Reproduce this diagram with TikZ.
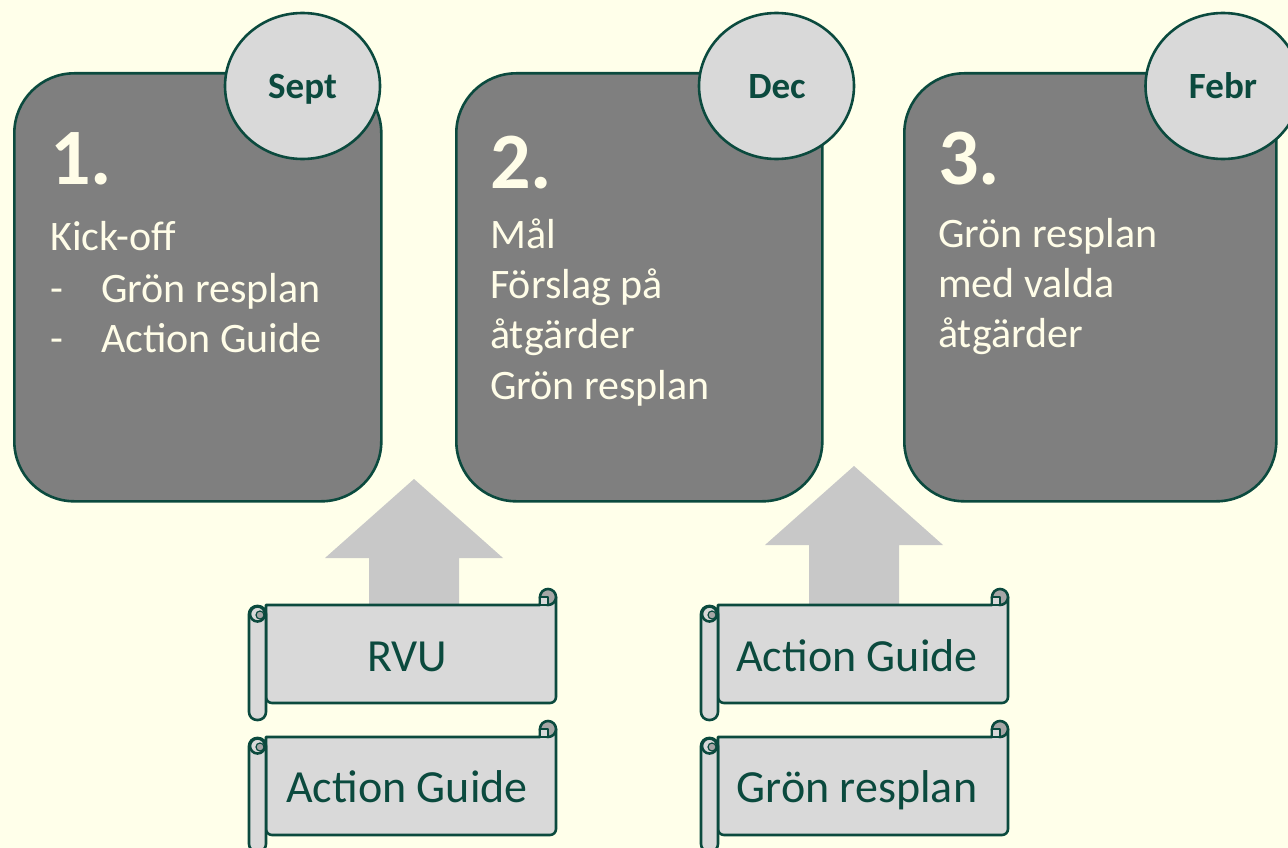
\documentclass[tikz,border=0pt]{standalone}
\usepackage{fontspec}
\setmainfont{Carlito}
\usetikzlibrary{shapes.geometric}
\definecolor{bg}{HTML}{FFFFEA}
\definecolor{dkgreen}{HTML}{0B4A3E}
\definecolor{boxgray}{HTML}{7F7F7F}
\definecolor{lightgray}{HTML}{D9D9D9}
\definecolor{arrowgray}{HTML}{C8C8C8}
\definecolor{curlgray}{HTML}{A6A6A6}
\definecolor{cream}{HTML}{FFFDE8}
\begin{document}
\begin{tikzpicture}[x=1pt,y=-1pt,
  stagebox/.style={draw=dkgreen,line width=2.6pt,fill=boxgray,rounded corners=60pt,
    anchor=north west,minimum height=428pt,inner sep=0pt},
  monthbub/.style={ellipse,draw=dkgreen,line width=2.6pt,fill=lightgray,
    minimum width=155pt,minimum height=146pt,inner sep=0pt},
  monthtxt/.style={anchor=base,inner sep=0pt,text=dkgreen,font=\bfseries\fontsize{37}{40}\selectfont},
  numtxt/.style={anchor=base west,inner sep=0pt,text=cream,font=\bfseries\fontsize{80}{90}\selectfont},
  bodytxt/.style={anchor=base west,inner sep=0pt,text=cream,font=\fontsize{42}{51}\selectfont},
  scrolltxt/.style={anchor=base,inner sep=0pt,text=dkgreen,font=\fontsize{46}{52}\selectfont},
  upblock/.style={fill=arrowgray},
  scrollline/.style={draw=dkgreen,line width=2.6pt,line join=round},
  scrollpic/.pic={
    \filldraw[scrollline,fill=lightgray] (0,0) -- (274,0) -- (274,-8) -- (290,-8)
      [rounded corners=6pt] -- (290,98) -- (0,98) [sharp corners] -- cycle;
    \filldraw[scrollline,fill=curlgray] (282,-8) circle[radius=8];
    \filldraw[scrollline,fill=lightgray] (274,-8) rectangle (282,0);
    \filldraw[scrollline,fill=lightgray,rounded corners=8pt] (-17,1) rectangle (0,115);
    \filldraw[scrollline,fill=lightgray] (-8.5,9) circle[radius=7.5];
    \filldraw[draw=dkgreen,line width=1.2pt,fill=curlgray] (-6,10) circle[radius=4];
  }]
\useasboundingbox (0,0) rectangle (1288,848);
\clip (0,0) rectangle (1288,848);
\fill[bg] (0,0) rectangle (1288,848);

% stage boxes
\node[stagebox,minimum width=367pt] (box1) at (13,72) {};
\node[stagebox,minimum width=366pt] (box2) at (455,72) {};
\node[stagebox,minimum width=372pt] (box3) at (903,72) {};

% month bubbles
\node[monthbub] (m1) at (302.5,86) {};
\node[monthbub] (m2) at (776.5,86) {};
\node[monthbub] (m3) at (1223,86) {};
\node[monthtxt] (t1) at (302.5,99) {Sept};
\node[monthtxt] (t2) at (777,99) {Dec};
\node[monthtxt] (t3) at (1223,99) {Febr};

% box 1 text
\node[numtxt] (n1) at (50,185) {1.};
\node[bodytxt] (a1) at (50,250) {Kick-off};
\node[bodytxt] (a2) at (50,302) {-};
\node[bodytxt] (a3) at (101,302) {Grön resplan};
\node[bodytxt] (a4) at (50,352) {-};
\node[bodytxt] (a5) at (101,352) {Action Guide};

% box 2 text
\node[numtxt] (n2) at (490,188) {2.};
\node[bodytxt] (b1) at (490,248) {Mål};
\node[bodytxt] (b2) at (490,298) {Förslag på};
\node[bodytxt] (b3) at (490,348) {åtgärder};
\node[bodytxt] (b4) at (490,399) {Grön resplan};

% box 3 text
\node[numtxt] (n3) at (938,185) {3.};
\node[bodytxt] (c1) at (938,247) {Grön resplan};
\node[bodytxt] (c2) at (938,297) {med valda};
\node[bodytxt] (c3) at (938,347) {åtgärder};

% block arrows
\fill[upblock] (369,606) -- (369,558) -- (325,558) -- (414,479) -- (503,558) -- (459,558) -- (459,606) -- cycle;
\fill[upblock] (809,606) -- (809,545) -- (765,545) -- (854,466) -- (943,545) -- (899,545) -- (899,606) -- cycle;

% scrolls
\pic at (266,605) {scrollpic};
\pic at (266,737) {scrollpic};
\pic at (718,605) {scrollpic};
\pic at (718,737) {scrollpic};
\node[scrolltxt] (s1) at (407,671) {RVU};
\node[scrolltxt] (s2) at (407,802) {Action Guide};
\node[scrolltxt] (s3) at (857,671) {Action Guide};
\node[scrolltxt] (s4) at (857,802) {Grön resplan};
\end{tikzpicture}
\end{document}
